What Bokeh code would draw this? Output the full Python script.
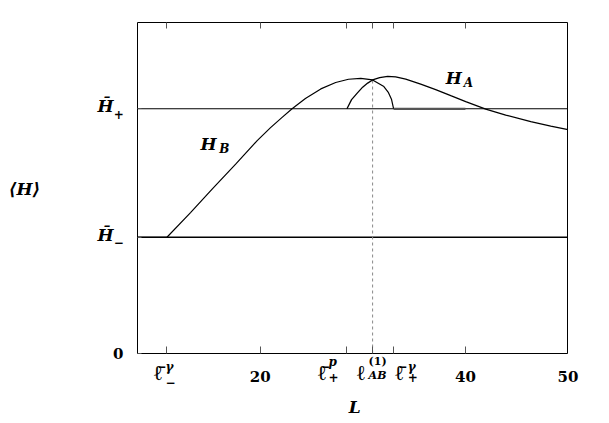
from bokeh.plotting import figure
from bokeh.models import FixedTicker, LinearAxis, Label, Range1d
from bokeh.embed import file_html
from bokeh.resources import INLINE

# ---- data ----
H_minus = 1.0
H_plus = 2.105
L_min, L_max = 8.0, 50.0
H_top = 2.845

L_B = [8.0, 10.9, 13.2, 15.35, 17.6, 19.7, 21.0, 22.1, 23.1, 24.4, 25.9, 27.35,
       28.6, 29.8, 30.95, 32.05, 32.5, 32.8, 33.0, 40.0]
H_B = [1.0, 1.0, 1.212, 1.419, 1.629, 1.831, 1.943, 2.029, 2.105, 2.194, 2.276, 2.331,
       2.359, 2.367, 2.353, 2.296, 2.244, 2.184, 2.105, 2.105]

L_A = [28.45, 28.9, 29.45, 29.98, 30.47, 30.95, 31.64, 32.42, 33.2, 34.18, 35.64,
       37.1, 38.57, 40.03, 41.98, 43.93, 46.37, 48.32, 50.0]
H_A = [2.105, 2.184, 2.24, 2.291, 2.326, 2.353, 2.373, 2.384, 2.379, 2.36, 2.317,
       2.27, 2.218, 2.167, 2.102, 2.051, 1.995, 1.956, 1.926]

l_minus_gamma = 10.86
l_plus_p = 28.42
l_AB = 30.95
l_plus_gamma = 33.0
x_ticks = [l_minus_gamma, 20, l_plus_p, l_AB, l_plus_gamma, 40, 50]
num_ticks = [20, 40, 50]
num_tick_labels = ["20", "40", "50"]
y_ticks = [0, H_minus, H_plus]

SERIF = "DejaVu Serif"
ELL_FONT = "Liberation Serif"

# frame spans the whole page; the axes are pinned at L=8..50, H=0..H_top
px_per_L = 10.257
px_per_H = 116.25
x0 = L_min - 136.7 / px_per_L
y0 = 0 - 70.0 / px_per_H
p = figure(width=609, height=423,
           x_range=Range1d(x0, x0 + 609 / px_per_L),
           y_range=Range1d(y0, y0 + 423 / px_per_H),
           output_backend="svg", toolbar_location=None)
p.min_border = 0
p.min_border_left = 0
p.min_border_right = 0
p.min_border_top = 0
p.min_border_bottom = 0
p.grid.visible = False
p.outline_line_color = None


def style_axis(ax, ticks, tick_in):
    ax.ticker = FixedTicker(ticks=ticks)
    ax.major_tick_in = tick_in
    ax.major_tick_out = 0
    ax.minor_tick_line_color = None
    ax.major_tick_line_color = "#555555"
    ax.axis_line_color = "black"
    ax.axis_line_width = 1
    ax.major_label_text_font_size = "0px"
    ax.major_label_standoff = 0
    ax.major_label_overrides = {t: "" for t in ticks}


xa = p.xaxis[0]
style_axis(xa, x_ticks, 7)
xa.fixed_location = 0
xa.bounds = (L_min, L_max)

ya = p.yaxis[0]
style_axis(ya, y_ticks, 4)
ya.fixed_location = L_min
ya.bounds = (0, H_top)

ta = LinearAxis()
style_axis(ta, x_ticks, 6)
ta.fixed_location = H_top
ta.bounds = (L_min, L_max)
p.add_layout(ta, "above")

ra = LinearAxis()
style_axis(ra, [], 0)
ra.fixed_location = L_max
ra.bounds = (0, H_top)
p.add_layout(ra, "right")

# reference levels
p.line([L_min, L_max], [H_plus, H_plus], line_color="black", line_width=1.1)
p.line([L_min, L_max], [H_minus, H_minus], line_color="black", line_width=1.3)

# dashed vertical at l_AB up to the crossing
i_cross = L_B.index(l_AB)
p.line([l_AB, l_AB], [0, H_B[i_cross]], line_color="#888888", line_width=1, line_dash="3 3")

# curves
p.line(L_B[:-1], H_B[:-1], line_color="black", line_width=1.2)
p.line(L_B[-2:], H_B[-2:], line_color="#555555", line_width=2.2)
p.line(L_A, H_A, line_color="black", line_width=1.3)


def lab(x, y, t, size, style="bold italic", align="left", font=SERIF):
    p.add_layout(Label(x=x, y=y, text=t, text_font=font, text_font_style=style,
                       text_font_size=size, text_color="black",
                       text_align=align, text_baseline="middle"))


# curve labels
lab(14.18, 1.802, "H", "17px")
lab(16.0, 1.758, "B", "12px")
lab(38.08, 2.374, "H", "17px")
lab(39.83, 2.330, "A", "12px")

# axis titles
lab(-2.99, 1.419, "\u27e8H\u27e9", "17px", align="center")
lab(29.2, -0.460, "L", "17px", align="center")

# numeric tick labels
for t, s in zip(num_ticks, num_tick_labels):
    lab(t, -0.194, s, "15px", style="bold", align="center")
lab(6.66, 0, "0", "15px", style="bold", align="right")

# y tick labels H-bar +/-
for hv, sub in [(H_plus, "+"), (H_minus, "\u2212")]:
    lab(5.70, hv + 0.02, "H\u0304", "17px", align="right")
    lab(5.72, hv - 0.045, sub, "12px", style="bold")

# special x tick labels
yl = -0.165
lab(9.65, yl, "\u2113\u0304", "21px", style="bold", font=ELL_FONT)
lab(10.76, -0.112, "\u03b3", "12px")
lab(10.76, -0.249, "\u2212", "12px", style="bold")

lab(25.62, yl, "\u2113\u0304", "21px", style="bold", font=ELL_FONT)
lab(26.65, -0.077, "p", "12px")
lab(26.65, -0.198, "+", "12px", style="bold")

lab(29.44, yl, "\u2113", "21px", style="bold", font=ELL_FONT)
lab(30.56, -0.069, "(1)", "11px", style="bold")
lab(30.56, -0.189, "AB", "11px")

lab(33.15, yl, "\u2113\u0304", "21px", style="bold", font=ELL_FONT)
lab(34.37, -0.112, "\u03b3", "12px")
lab(34.37, -0.198, "+", "12px", style="bold")

open("out.html", "w").write(file_html(p, INLINE))
